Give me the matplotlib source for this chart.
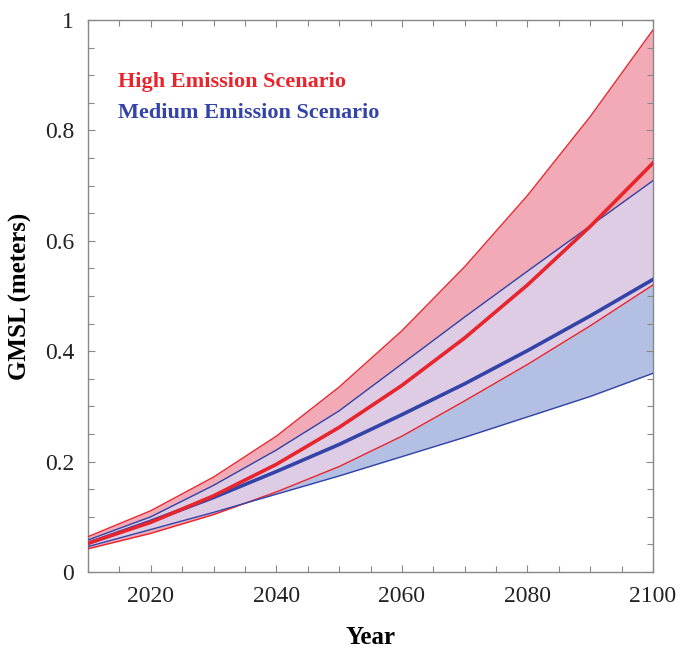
import numpy as np
import matplotlib
matplotlib.use("Agg")
import matplotlib.pyplot as plt
from matplotlib.ticker import MultipleLocator, FixedLocator, FixedFormatter

years = [2010, 2020, 2030, 2040, 2050, 2060, 2070, 2080, 2090, 2100]
high_upper = [0.064, 0.111, 0.172, 0.246, 0.335, 0.437, 0.553, 0.682, 0.825, 0.982]
high_median = [0.052, 0.090, 0.138, 0.195, 0.262, 0.338, 0.424, 0.520, 0.626, 0.741]
high_lower = [0.042, 0.070, 0.104, 0.145, 0.191, 0.246, 0.310, 0.376, 0.446, 0.520]
med_upper = [0.058, 0.100, 0.157, 0.221, 0.292, 0.377, 0.462, 0.545, 0.627, 0.709]
med_median = [0.052, 0.092, 0.135, 0.182, 0.231, 0.285, 0.341, 0.401, 0.464, 0.530]
med_lower = [0.046, 0.077, 0.108, 0.141, 0.174, 0.209, 0.244, 0.281, 0.318, 0.360]

xtick_vals = [2020, 2040, 2060, 2080, 2100]
ytick_vals = [0, 0.2, 0.4, 0.6, 0.8, 1.0]
ytick_labels = ["0", "0.2", "0.4", "0.6", "0.8", "1"]

RED = "#E8242C"
BLUE = "#3343A8"
PINK = "#F2ABB6"
LBLUE = "#B3BFE3"
LAV = "#DDCCE3"

plt.rcParams['font.family'] = ['Liberation Serif', 'DejaVu Serif']

fig = plt.figure(figsize=(6.82, 6.51), dpi=100)
ax = fig.add_axes([88/682, 1-572/651, (653-88)/682, (572-20)/651])

x = np.array(years, dtype=float)
hu, hm, hl = np.array(high_upper), np.array(high_median), np.array(high_lower)
mu, mm, ml = np.array(med_upper), np.array(med_median), np.array(med_lower)

ax.fill_between(x, hl, hu, color=PINK, lw=0, zorder=1)
ax.fill_between(x, ml, mu, color=LBLUE, lw=0, zorder=1)
lo = np.maximum(hl, ml)
hi = np.minimum(hu, mu)
ax.fill_between(x, lo, hi, where=hi >= lo, color=LAV, lw=0, zorder=2)

ax.plot(x, hu, color=RED, lw=1.0, zorder=3)
ax.plot(x, hl, color=RED, lw=1.0, zorder=3)
ax.plot(x, mu, color=BLUE, lw=1.0, zorder=3)
ax.plot(x, ml, color=BLUE, lw=1.0, zorder=3)
ax.plot(x, mm, color=BLUE, lw=2.6, zorder=4)
ax.plot(x, hm, color=RED, lw=2.6, zorder=5)

ax.set_xlim(2010, 2100)
ax.set_ylim(0, 1)

ax.xaxis.set_major_locator(FixedLocator(xtick_vals))
ax.xaxis.set_minor_locator(MultipleLocator(5))
ax.yaxis.set_major_locator(FixedLocator(ytick_vals))
ax.yaxis.set_major_formatter(FixedFormatter(ytick_labels))
ax.yaxis.set_minor_locator(MultipleLocator(0.05))

ax.tick_params(which='both', direction='in', top=True, right=True,
               color='#888888', width=0.8)
ax.tick_params(which='major', length=5, labelsize=17, pad=10,
               labelcolor='#222222')
ax.tick_params(which='minor', length=4)
for s in ax.spines.values():
    s.set_color('#888888')
    s.set_linewidth(1.0)

ax.set_xlabel("Year", fontsize=18, fontweight='bold', labelpad=14)
ax.set_ylabel("GMSL (meters)", fontsize=18, fontweight='bold', labelpad=9)

ax.text(2014.7, 0.888, "High Emission Scenario", color=RED, fontsize=16,
        fontweight='bold', va='center', ha='left')
ax.text(2014.7, 0.831, "Medium Emission Scenario", color=BLUE, fontsize=16,
        fontweight='bold', va='center', ha='left')

fig.savefig("out.png", dpi=100)
